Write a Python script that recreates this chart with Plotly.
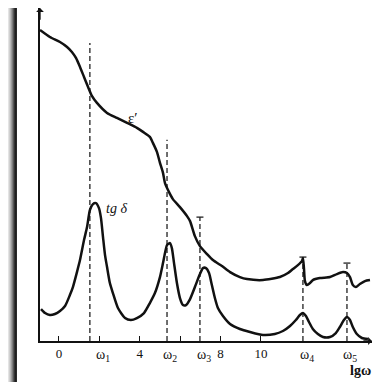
import plotly.graph_objects as go

# epsilon' curve (lg omega, relative units)
eps_x = [-0.94, -0.45, 0.05, 0.40, 0.64, 0.84, 1.04, 1.24, 1.44, 1.63, 1.88, 2.38, 2.87, 3.37,
         3.86, 4.16, 4.50, 4.65, 4.85, 5.00, 5.15, 5.25, 5.45, 5.64, 5.99, 6.34, 6.49, 6.73,
         6.98, 7.33, 7.62, 8.07, 8.47, 8.96, 9.31, 10.10, 10.94, 11.34, 11.58, 11.83, 12.03,
         12.08, 12.13, 12.18, 12.28, 12.43, 12.57, 12.92, 13.42, 13.76, 14.06, 14.26, 14.41,
         14.55, 14.70, 14.90, 15.15, 15.40]
eps_y = [9.34, 9.13, 8.98, 8.83, 8.68, 8.50, 8.23, 7.93, 7.63, 7.36, 7.15, 6.85, 6.70, 6.55,
         6.40, 6.28, 6.13, 5.95, 5.68, 5.35, 5.05, 4.74, 4.47, 4.26, 4.02, 3.75, 3.60, 3.15,
         2.85, 2.61, 2.43, 2.25, 2.07, 1.92, 1.86, 1.83, 1.92, 2.04, 2.16, 2.28, 2.40,
         2.49, 2.19, 1.80, 1.68, 1.74, 1.83, 1.89, 1.92, 2.01, 2.07, 2.04, 1.92,
         1.68, 1.62, 1.71, 1.80, 1.83]

# tg delta curve
tg_x = [-0.89, -0.69, -0.45, -0.20, 0.05, 0.30, 0.54, 0.69, 0.89, 1.04, 1.24, 1.39, 1.53, 1.68,
        1.83, 1.98, 2.08, 2.18, 2.28, 2.38, 2.52, 2.67, 2.92, 3.27, 3.56, 3.86, 4.21, 4.50,
        4.75, 5.00, 5.15, 5.25, 5.35, 5.50, 5.59, 5.69, 5.84, 5.99, 6.14, 6.29, 6.49, 6.73,
        6.98, 7.13, 7.28, 7.43, 7.57, 7.72, 7.87, 8.12, 8.47, 8.96, 9.46, 10.10, 10.69, 11.09,
        11.44, 11.73, 11.93, 12.08, 12.23, 12.38, 12.57, 12.82, 13.07, 13.42, 13.71, 13.91,
        14.11, 14.26, 14.41, 14.55, 14.75, 15.00, 15.30]
tg_y = [0.96, 0.84, 0.78, 0.81, 0.90, 1.05, 1.38, 1.62, 2.07, 2.43, 3.03, 3.42, 3.93, 4.11,
        4.14, 3.99, 3.69, 3.12, 2.58, 2.22, 1.74, 1.44, 0.99, 0.69, 0.63, 0.69, 0.84, 1.14,
        1.44, 1.92, 2.34, 2.64, 2.88, 2.94, 2.79, 2.37, 1.74, 1.29, 1.08, 1.08, 1.26, 1.62,
        2.01, 2.19, 2.19, 2.04, 1.68, 1.29, 0.99, 0.75, 0.51, 0.36, 0.27, 0.18, 0.21, 0.30,
        0.45, 0.63, 0.78, 0.84, 0.75, 0.57, 0.36, 0.21, 0.12, 0.12, 0.24, 0.42,
        0.63, 0.72, 0.63, 0.42, 0.21, 0.09, 0.06]

# characteristic frequencies (dashed verticals)
omega_x = [1.53, 5.35, 6.98, 12.08, 14.26]
omega_top = [8.95, 6.04, 3.72, 2.52, 2.34]
omega_labels = ["ω<sub>1</sub>", "ω<sub>2</sub>", "ω<sub>3</sub>", "ω<sub>4</sub>", "ω<sub>5</sub>"]
omega_label_x = [2.18, 5.50, 7.20, 12.30, 14.40]

tick_vals = [0, 2, 4, 6, 8, 10]
tick_text = ["0", "", "4", "", "8", "10"]

X0, X1 = -0.94, 15.5
Y0, Y1 = 0, 10

# the page body adds an 8px offset; the figure is sized so it fits the window
W = H = 374
L, R, T, B = 32, 10, 0, 41
PW = W - L - R

fig = go.Figure()

for xv, top in zip(omega_x, omega_top):
    fig.add_trace(go.Scatter(x=[xv, xv], y=[0, top], mode="lines",
                             line=dict(color="#222", width=1.3, dash="5px,3px"),
                             showlegend=False, hoverinfo="skip"))
fig.add_trace(go.Scatter(x=omega_x[2:], y=omega_top[2:], mode="markers",
                         marker=dict(symbol="line-ew", size=5, line=dict(color="#222", width=1.3)),
                         showlegend=False, hoverinfo="skip"))

fig.add_trace(go.Scatter(x=eps_x, y=eps_y, mode="lines",
                         line=dict(color="#111", width=2.5, shape="spline", smoothing=0.6),
                         showlegend=False))
fig.add_trace(go.Scatter(x=tg_x, y=tg_y, mode="lines",
                         line=dict(color="#111", width=2.5, shape="spline", smoothing=0.6),
                         showlegend=False))

# gutter shading of the scan (figure pixel columns)
grad = [(0, "#e4e4e4"), (1, "#d0d0d0"), (2, "#b8b8b8"), (3, "#9a9a9a"), (4, "#7a7a7a"),
        (5, "#555"), (6, "#333"), (7, "#1e1e1e"), (8, "#2a2a2a")]
shapes = []
for px, col in grad:
    shapes.append(dict(type="rect", xref="paper", yref="paper",
                       x0=(px - L) / PW, x1=(px + 1 - L) / PW, y0=-0.2, y1=1.1,
                       fillcolor=col, line=dict(width=0), layer="below"))

annotations = []
for lab, lx in zip(omega_labels, omega_label_x):
    annotations.append(dict(x=lx, y=0, xref="x", yref="y", text=lab, showarrow=False,
                            yshift=-14, font=dict(family="Liberation Serif", size=14, color="#111")))
annotations += [
    dict(x=3.66, y=6.70, xref="x", yref="y", text="ε′", showarrow=False,
         font=dict(family="Liberation Serif", size=15, color="#111")),
    dict(x=2.85, y=3.99, xref="x", yref="y", text="<i>tg δ</i>", showarrow=False,
         font=dict(family="Liberation Serif", size=14, color="#111")),
    dict(x=14.95, y=0, xref="x", yref="y", text="<b>lgω</b>", showarrow=False, yshift=-29,
         font=dict(family="Liberation Serif", size=14, color="#111")),
    # axis arrowheads
    dict(x=X0, y=Y1, ax=X0, ay=Y1 - 0.4, xref="x", yref="y", axref="x", ayref="y",
         showarrow=True, arrowhead=1, arrowsize=1, arrowwidth=1.3, arrowcolor="#111", text=""),
    dict(x=X1, y=0, ax=X1 - 0.5, ay=0, xref="x", yref="y", axref="x", ayref="y",
         showarrow=True, arrowhead=1, arrowsize=1, arrowwidth=1.3, arrowcolor="#111", text=""),
]

fig.update_layout(
    width=W, height=H,
    margin=dict(l=L, r=R, t=T, b=B, autoexpand=False),
    paper_bgcolor="white", plot_bgcolor="white",
    shapes=shapes, annotations=annotations,
    xaxis=dict(range=[X0, X1], showgrid=False, zeroline=False, showline=True,
               linecolor="#111", linewidth=1.5, ticks="inside", ticklen=5, tickwidth=1.2,
               tickcolor="#111", tickvals=tick_vals, ticktext=tick_text,
               tickfont=dict(family="Liberation Serif", size=13, color="#111")),
    yaxis=dict(range=[Y0, Y1], showgrid=False, zeroline=False, showline=True,
               linecolor="#111", linewidth=1.5, showticklabels=False, ticks=""),
)

fig.write_html("out.html")
